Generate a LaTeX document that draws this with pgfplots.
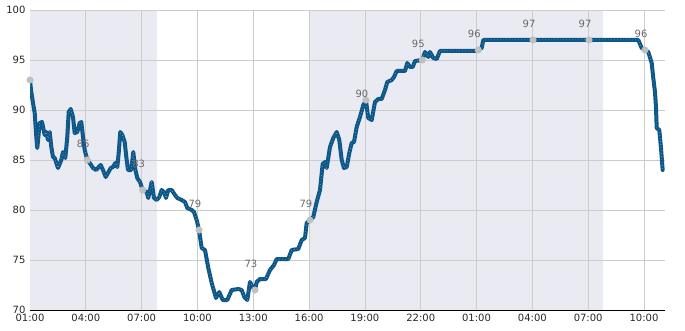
\documentclass[border=0pt]{standalone}
\usepackage{fontspec}
\setmainfont{DejaVu Sans}
\usepackage{pgfplots}
\usepackage{pgfplotstable}
\pgfplotsset{compat=1.18}
\definecolor{linec}{RGB}{12,86,136}
\definecolor{shade}{RGB}{234,234,242}
\definecolor{gridc}{RGB}{204,204,204}
\definecolor{mk}{RGB}{192,192,192}
\definecolor{lbl}{RGB}{105,105,105}
\pgfplotstableread{
x y
1.000 93.0
1.054 92.0
1.161 90.7
1.253 89.7
1.339 87.3
1.392 86.2
1.521 88.7
1.645 88.8
1.790 87.5
1.876 87.8
1.967 87.0
2.059 87.8
2.145 86.3
2.236 85.3
2.328 85.2
2.505 84.2
2.682 85.0
2.774 85.8
2.897 85.2
3.005 87.3
3.080 89.8
3.187 90.1
3.311 89.3
3.402 87.7
3.542 87.8
3.671 88.7
3.757 88.8
3.849 87.3
3.940 86.0
4.080 85.0
4.209 84.7
4.386 84.2
4.563 84.0
4.692 84.3
4.800 84.5
4.923 84.0
5.069 83.3
5.192 83.7
5.337 84.2
5.461 84.3
5.585 84.7
5.692 84.3
5.767 85.7
5.853 87.8
5.961 87.5
6.090 86.8
6.176 85.3
6.267 84.0
6.445 84.0
6.552 85.8
6.643 84.2
6.767 83.2
6.912 82.8
7.057 82.0
7.272 81.8
7.358 81.2
7.541 82.8
7.665 81.2
7.810 81.0
7.949 81.3
8.078 82.0
8.202 81.8
8.309 81.2
8.433 82.0
8.616 82.0
8.793 81.5
8.917 81.2
9.153 81.0
9.331 80.8
9.454 80.2
9.691 80.0
9.814 79.8
9.959 79.0
10.083 78.0
10.228 76.2
10.406 76.0
10.583 74.2
10.766 72.7
10.997 71.2
11.174 71.8
11.357 71.0
11.604 71.0
11.841 72.0
12.195 72.1
12.378 72.0
12.518 71.3
12.679 71.0
12.824 72.8
12.969 72.3
13.093 72.0
13.184 72.8
13.362 73.1
13.684 73.1
13.899 74.0
14.114 74.5
14.259 75.1
14.882 75.1
15.065 76.0
15.420 76.1
15.603 77.0
15.780 77.2
15.871 78.7
16.049 79.0
16.226 79.3
16.409 80.8
16.586 82.0
16.731 84.6
16.855 84.8
16.946 84.2
17.124 86.3
17.301 87.2
17.484 87.8
17.624 87.0
17.753 85.0
17.876 84.2
18.022 84.3
18.161 85.7
18.290 86.7
18.414 86.8
18.559 88.3
18.736 89.3
18.914 90.5
19.059 90.9
19.182 89.2
19.365 89.0
19.542 90.8
19.720 91.1
19.903 91.1
20.080 92.0
20.204 92.8
20.440 93.0
20.564 93.3
20.709 93.9
21.155 93.9
21.279 94.7
21.423 94.3
21.569 94.3
21.692 94.9
22.085 95.0
22.230 95.8
22.408 95.3
22.498 95.8
22.676 95.2
22.859 95.1
23.036 95.9
24.917 95.9
25.095 96.0
25.277 96.2
25.363 97.0
33.694 97.0
33.877 96.2
34.054 96.0
34.232 95.8
34.414 94.7
34.500 93.2
34.591 91.8
34.645 90.3
34.683 88.2
34.823 88.0
34.914 86.2
35.005 84.0
}\serdata
\pgfplotstableread{
x y
1.000 93
4.080 85
7.057 82
10.083 78
13.093 72
16.049 79
19.059 91
22.085 95
25.095 96
28.034 97
31.044 97
34.054 96
}\mkdata
\pgfplotstableread{
x y l
3.865 86.6 85
6.842 84.6 83
9.868 80.6 79
12.878 74.6 73
15.834 80.6 79
18.844 91.6 90
21.870 96.6 95
24.880 97.6 96
27.820 98.6 97
30.830 98.6 97
33.840 97.6 96
}\lbldata
\begin{document}
\begin{tikzpicture}
\begin{axis}[
 at={(30pt,20pt)}, anchor=south west,
 scale only axis, width=635pt, height=300pt,
 xmin=1, xmax=35.13, ymin=70, ymax=100,
 axis x line*=bottom, axis y line*=left,
 axis line style={black, line width=0.8pt, -},
 xtick={1,4,7,10,13,16,19,22,25,28,31,34},
 xticklabels={01:00,04:00,07:00,10:00,13:00,16:00,19:00,22:00,01:00,04:00,07:00,10:00},
 ytick={70,75,80,85,90,95,100},
 minor y tick num=4,
 tick align=inside,
 major tick length=5pt, minor tick length=4pt,
 tick style={black, line width=0.8pt},
 ticklabel style={font=\fontsize{10}{12}\selectfont, text=black!85},
 xticklabel style={yshift=-1pt},
 yticklabel style={xshift=-1pt},
 /pgf/number format/assume math mode=true,
]
\addplot[fill=shade, draw=none] coordinates {(1,70) (7.826,70) (7.826,100) (1,100)} -- cycle;
\addplot[fill=shade, draw=none] coordinates {(16,70) (31.80,70) (31.80,100) (16,100)} -- cycle;
\pgfplotsinvokeforeach{4,7,10,13,16,19,22,25,28,31,34}{
  \addplot[gridc, line width=0.8pt] coordinates {(#1,70) (#1,100)};
}
\pgfplotsinvokeforeach{75,80,85,90,95,100}{
  \addplot[gridc, line width=0.8pt] coordinates {(1,#1) (35.13,#1)};
}
\addplot[linec, line width=4pt, line join=round, line cap=round] table[x=x,y=y] {\serdata};
\addplot[white, line width=0.5pt, dash pattern=on 0.5pt off 2.5pt, opacity=0.7] table[x=x,y=y] {\serdata};
\addplot[only marks, mark=*, mark size=3.3pt, mark options={fill=mk, draw=mk}] table[x=x,y=y] {\mkdata};
\addplot[draw=none, mark=none, nodes near coords, point meta=explicit symbolic,
  nodes near coords style={anchor=center, text=lbl, font=\fontsize{10}{12}\selectfont}] table[x=x,y=y,meta=l] {\lbldata};
\end{axis}
\path[use as bounding box] (0pt,0pt) rectangle (685pt,330pt);
\end{tikzpicture}
\end{document}
